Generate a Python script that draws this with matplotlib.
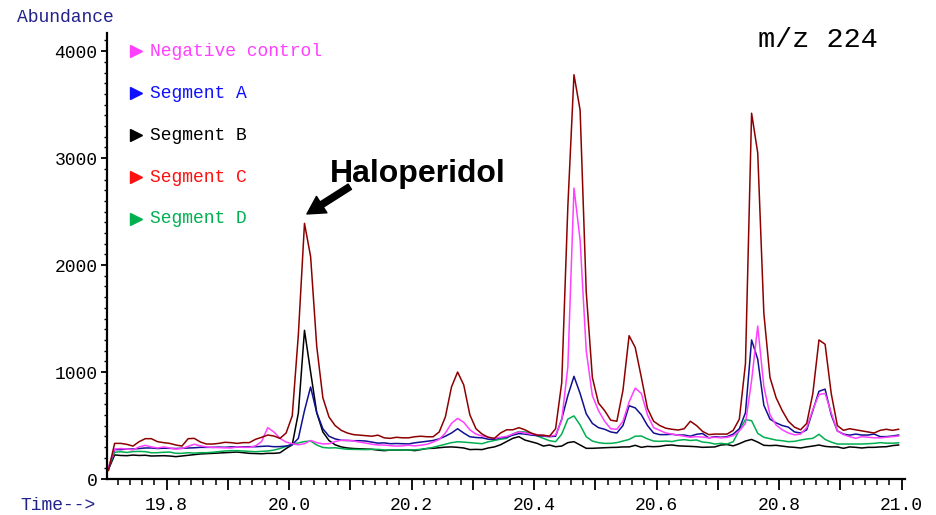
import numpy as np
import matplotlib.pyplot as plt
from matplotlib.ticker import MultipleLocator

plt.rcParams['font.family'] = ['Liberation Mono', 'DejaVu Sans Mono']

# scan times (min), one reading every 0.01 min
time = np.round(19.705 + 0.01 * np.arange(130), 3)

neg_control = [110, 280, 285, 280, 272, 300, 315, 300, 290, 300,
               290, 280, 285, 305, 325, 310, 300, 295, 293, 290,
               290, 300, 296, 296, 310, 350, 480, 440, 380, 345,
               330, 320, 330, 360, 340, 328, 330, 350, 362, 362,
               356, 345, 336, 325, 318, 318, 312, 308, 310, 316,
               310, 316, 325, 345, 370, 430, 520, 567, 530, 460,
               420, 402, 390, 380, 390, 398, 420, 440, 430, 420,
               415, 405, 400, 410, 550, 1050, 2720, 2235, 1200, 780,
               640, 540, 470, 465, 540, 720, 850, 800, 600, 480,
               455, 430, 420, 411, 400, 390, 396, 392, 385, 390,
               385, 390, 405, 450, 520, 920, 1430, 865, 600, 505,
               460, 430, 413, 420, 480, 650, 790, 800, 620, 450,
               415, 396, 380, 396, 390, 385, 385, 390, 396, 402]

segment_a = [100, 275, 275, 280, 280, 285, 290, 290, 285, 288,
             287, 285, 287, 290, 292, 296, 296, 296, 298, 296,
             300, 300, 300, 302, 302, 305, 308, 302, 303, 308,
             320, 380, 640, 860, 620, 470, 400, 375, 362, 360,
             358, 358, 355, 345, 335, 338, 330, 332, 330, 328,
             338, 345, 352, 360, 375, 400, 430, 470, 430, 395,
             388, 385, 372, 372, 385, 390, 410, 425, 420, 411,
             405, 400, 396, 400, 560, 780, 960, 800, 610, 520,
             480, 465, 440, 430, 500, 685, 665, 600, 500, 430,
             415, 415, 418, 411, 411, 400, 418, 425, 385, 396,
             390, 396, 420, 470, 620, 1300, 1120, 690, 560, 525,
             500, 485, 440, 430, 460, 640, 820, 840, 600, 450,
             420, 410, 420, 411, 411, 420, 396, 396, 402, 411]

segment_b = [90, 225, 220, 218, 224, 220, 222, 215, 216, 218,
             215, 209, 215, 222, 226, 234, 237, 240, 244, 246,
             250, 252, 246, 240, 238, 236, 240, 240, 245, 285,
             320, 617, 1390, 1000, 620, 440, 360, 320, 300, 290,
             285, 282, 280, 278, 270, 265, 270, 271, 270, 272,
             265, 275, 285, 287, 293, 298, 300, 296, 290, 275,
             277, 275, 290, 300, 320, 350, 380, 396, 364, 349,
             333, 308, 318, 302, 308, 340, 349, 318, 287, 287,
             290, 293, 295, 296, 300, 300, 315, 296, 305, 302,
             305, 315, 318, 310, 308, 305, 302, 296, 298, 300,
             318, 322, 310, 330, 355, 370, 345, 315, 312, 315,
             308, 300, 296, 290, 300, 308, 318, 305, 300, 300,
             287, 300, 296, 290, 296, 296, 300, 302, 312, 318]

segment_c = [80, 333, 333, 324, 308, 349, 377, 377, 349, 340,
             333, 318, 308, 377, 380, 346, 327, 327, 333, 343,
             340, 333, 340, 340, 371, 390, 411, 402, 380, 430,
             590, 1350, 2390, 2080, 1240, 760, 580, 500, 455, 430,
             415, 410, 405, 400, 410, 385, 380, 390, 385, 385,
             395, 400, 395, 395, 440, 580, 860, 1000, 880, 600,
             470, 420, 390, 380, 430, 460, 460, 480, 460, 430,
             410, 410, 400, 470, 900, 2550, 3780, 3450, 1750, 950,
             710, 640, 550, 540, 830, 1340, 1230, 950, 660, 540,
             500, 475, 465, 458, 470, 540, 500, 445, 415, 420,
             420, 420, 455, 560, 1080, 3420, 3050, 1550, 950, 760,
             640, 540, 485, 460, 520, 800, 1300, 1260, 800, 500,
             455, 470, 460, 450, 440, 430, 455, 465, 455, 465]

segment_d = [100, 250, 255, 248, 256, 258, 256, 245, 246, 250,
             252, 240, 240, 246, 242, 246, 246, 250, 256, 262,
             265, 265, 262, 258, 255, 258, 262, 270, 285, 305,
             325, 338, 350, 355, 318, 295, 290, 292, 285, 278,
             277, 277, 275, 277, 277, 272, 271, 273, 271, 271,
             273, 277, 285, 296, 310, 325, 340, 348, 345, 340,
             335, 330, 348, 360, 372, 380, 421, 443, 440, 427,
             402, 380, 358, 349, 420, 560, 590, 505, 395, 355,
             340, 333, 333, 340, 355, 370, 400, 402, 375, 355,
             352, 355, 350, 362, 368, 360, 365, 345, 340, 327,
             333, 327, 349, 458, 555, 545, 427, 390, 377, 364,
             358, 349, 352, 364, 374, 380, 418, 370, 345, 327,
             327, 327, 327, 327, 330, 333, 340, 335, 335, 338]

series_names = ['Negative control', 'Segment A', 'Segment B', 'Segment C', 'Segment D']
line_colors = ['#ff40ff', '#101090', '#000000', '#8c0000', '#00b050']
text_colors = ['#ff40ff', '#1010ff', '#000000', '#ff1010', '#00b050']

xtick_values = [19.8, 19.9, 20.0, 20.1, 20.2, 20.3, 20.4, 20.5, 20.6, 20.7, 20.8, 20.9, 21.0]
xtick_labels = ['19.8', '', '20.0', '', '20.2', '', '20.4', '', '20.6', '', '20.8', '', '21.0']
ytick_values = [0, 1000, 2000, 3000, 4000]

fig = plt.figure(figsize=(9.36, 5.15), dpi=100)
ax = fig.add_axes([0.1146, 0.0699, 0.8523, 0.866])

all_series = [neg_control, segment_a, segment_b, segment_c, segment_d]
draw_order = [2, 4, 1, 0, 3]
for i in draw_order:
    ax.plot(time, all_series[i], color=line_colors[i], lw=1.1)

ax.set_xlim(19.703, 21.0055)
ax.set_ylim(0, 4170)

for s in ['top', 'right']:
    ax.spines[s].set_visible(False)
ax.spines['left'].set_linewidth(1.6)
ax.spines['bottom'].set_linewidth(1.6)

ax.set_xticks(xtick_values)
ax.set_xticklabels(xtick_labels)
ax.xaxis.set_minor_locator(MultipleLocator(0.02))
ax.set_yticks(ytick_values)
ax.yaxis.set_minor_locator(MultipleLocator(100))
ax.tick_params(axis='x', which='major', length=8, width=1.3, labelsize=13, pad=5)
ax.tick_params(axis='x', which='minor', length=4, width=1.1)
ax.tick_params(axis='y', which='major', length=4, width=1.3, labelsize=13, pad=3)
ax.tick_params(axis='y', which='minor', length=2, width=1.0)

# axis captions in the instrument style
fig.text(17 / 936, 1 - 17 / 515, 'Abundance', color='#22228c', fontsize=13, va='center', ha='left')
fig.text(20 / 936, 1 - 505 / 515, 'Time-->', color='#22228c', fontsize=13, va='center', ha='left')
fig.text(758 / 936, 1 - 40 / 515, 'm/z 224', color='black', fontsize=20.5, va='center', ha='left')

# hand made legend
row_y = [51, 93, 135, 177, 219]
for name, c, y in zip(series_names, text_colors, row_y):
    fy = 1 - y / 515
    ax.plot([136 / 936], [fy], marker='>', ms=8.5, color=c, transform=fig.transFigure, clip_on=False)
    fig.text(150.5 / 936, fy, name, color=c, fontsize=13, va='center', ha='left')

# peak label
ax.text(20.067, 2777, 'Haloperidol', fontsize=23, fontweight='bold',
        family=['Liberation Sans', 'DejaVu Sans'], ha='left', va='baseline')
ax.annotate('', xy=(20.029, 2478), xytext=(20.099, 2733),
            arrowprops=dict(arrowstyle='simple,head_length=0.9,head_width=1.0,tail_width=0.32',
                            mutation_scale=14, color='black', shrinkA=0, shrinkB=0))

fig.savefig('out.png', dpi=100)
